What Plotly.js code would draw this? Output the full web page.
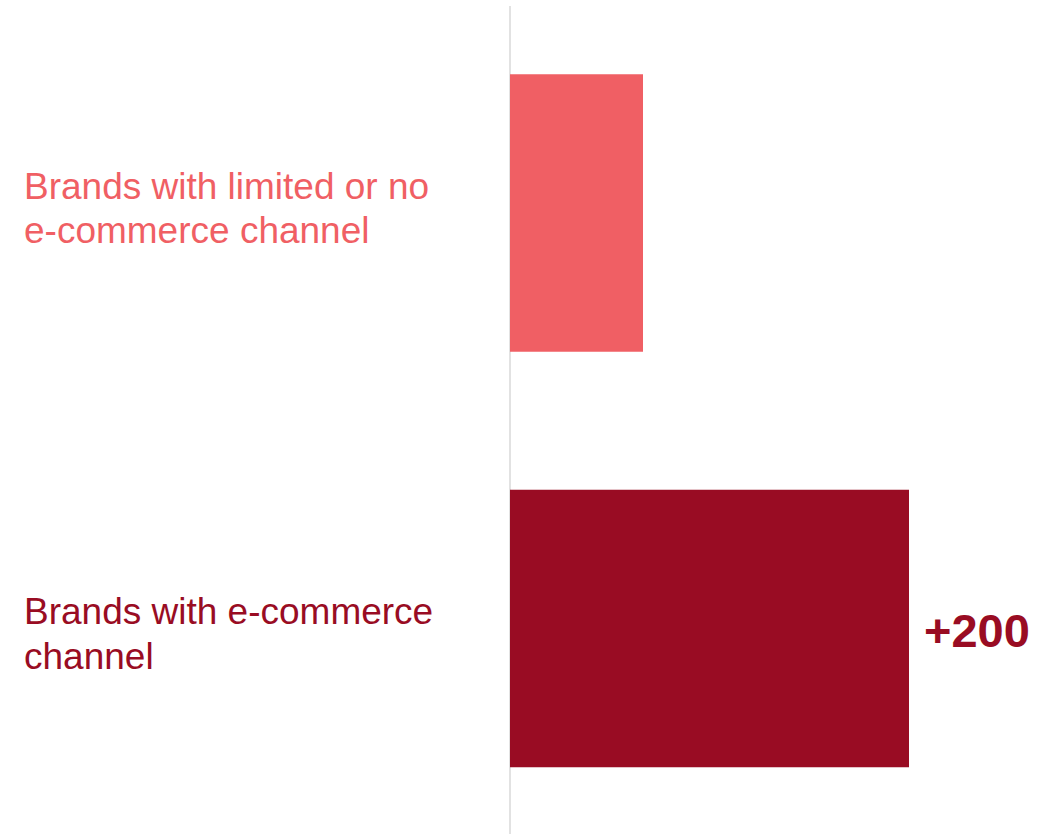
<!DOCTYPE html>
<html>
<head>
<meta charset="utf-8">
<script src="https://cdn.plot.ly/plotly-3.0.1.min.js"></script>
<style>html,body{margin:0;padding:0;background:#fff;}#chart{width:1046px;height:834px;}</style>
</head>
<body>
<div id="chart"></div>
<script>
const categories = ["Brands with limited or no e-commerce channel", "Brands with e-commerce channel"];
const values = [100, 300];
const labelLines = [["Brands with limited or no", "e-commerce channel"], ["Brands with e-commerce", "channel"]];
const deltaLabel = "+200";
const colors = ["#F05F64", "#990C23"];

const fontFam = "Liberation Sans, Arial, sans-serif";
const annotations = [];
const lineOffsets = [[-27, 17], [-17, 28]];
labelLines.forEach((lines, i) => {
  lines.forEach((ln, j) => {
    annotations.push({
      xref: "paper", yref: "y", x: (22 - 510) / 536, y: i,
      xanchor: "left", yanchor: "middle", yshift: -lineOffsets[i][j],
      text: ln, showarrow: false, align: "left",
      font: {family: fontFam, size: 37, color: colors[i]}
    });
  });
});
annotations.push({
  xref: "x", yref: "y", x: values[1], y: 1,
  xanchor: "left", yanchor: "middle", xshift: 13, yshift: -2,
  text: "<b>" + deltaLabel + "</b>", showarrow: false,
  font: {family: fontFam, size: 47, color: colors[1]}
});

const trace = {
  type: "bar", orientation: "h",
  y: [0, 1], x: values,
  marker: {color: colors},
  width: 0.668, hoverinfo: "skip"
};

const layout = {
  width: 1046, height: 834,
  margin: {l: 510, r: 0, t: 6, b: 0},
  paper_bgcolor: "#fff", plot_bgcolor: "#fff",
  showlegend: false,
  xaxis: {range: [0, 536 / 1.33], showgrid: false, showticklabels: false, ticks: "",
          zeroline: true, zerolinecolor: "#e2e2e2", zerolinewidth: 2, fixedrange: true},
  yaxis: {range: [1.4946, -0.4982], showgrid: false, showticklabels: false, ticks: "", zeroline: false, fixedrange: true},
  annotations: annotations
};

Plotly.newPlot("chart", [trace], layout, {displayModeBar: false, staticPlot: true});
</script>
</body>
</html>
